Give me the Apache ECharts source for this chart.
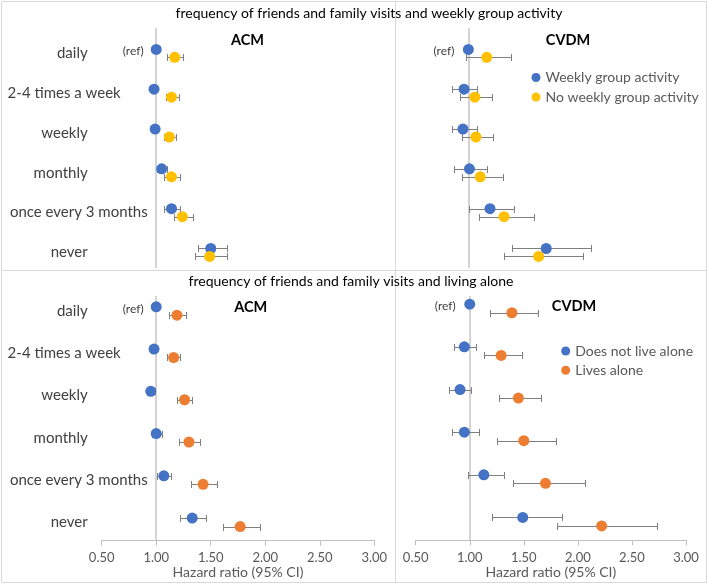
<!DOCTYPE html>
<html><head><meta charset="utf-8">
<script src="https://cdn.jsdelivr.net/npm/echarts@6/dist/echarts.min.js"></script>
<style>html,body{margin:0;padding:0;background:#fff}#c{width:708px;height:584px}</style>
</head><body><div id="c"></div>
<script>
const categories = ['daily', '2-4 times a week', 'weekly', 'monthly', 'once every 3 months', 'never'];
const xTicks = [0.5, 1.0, 1.5, 2.0, 2.5, 3.0];

// Top row: weekly group activity
const acmGroupHR = [1.00, 0.98, 0.99, 1.05, 1.14, 1.50];
const acmGroupLo = [null, 0.95, 0.96, 1.01, 1.07, 1.38];
const acmGroupHi = [null, 1.01, 1.02, 1.10, 1.22, 1.65];
const acmNoGroupHR = [1.17, 1.14, 1.12, 1.14, 1.24, 1.49];
const acmNoGroupLo = [1.10, 1.09, 1.07, 1.07, 1.16, 1.36];
const acmNoGroupHi = [1.25, 1.21, 1.18, 1.22, 1.34, 1.65];

const cvdGroupHR = [1.00, 0.96, 0.95, 1.01, 1.20, 1.72];
const cvdGroupLo = [null, 0.85, 0.85, 0.87, 1.01, 1.40];
const cvdGroupHi = [null, 1.08, 1.08, 1.17, 1.42, 2.13];
const cvdNoGroupHR = [1.17, 1.06, 1.07, 1.11, 1.33, 1.65];
const cvdNoGroupLo = [0.98, 0.92, 0.94, 0.94, 1.10, 1.33];
const cvdNoGroupHi = [1.39, 1.22, 1.23, 1.32, 1.61, 2.06];

// Bottom row: living alone
const acmNotAloneHR = [1.00, 0.98, 0.95, 1.00, 1.07, 1.33];
const acmNotAloneLo = [null, 0.95, 0.92, 0.96, 1.01, 1.22];
const acmNotAloneHi = [null, 1.01, 0.99, 1.05, 1.14, 1.46];
const acmAloneHR = [1.19, 1.16, 1.26, 1.30, 1.43, 1.77];
const acmAloneLo = [1.12, 1.10, 1.19, 1.21, 1.32, 1.61];
const acmAloneHi = [1.27, 1.22, 1.33, 1.40, 1.56, 1.95];

const cvdNotAloneHR = [1.00, 0.95, 0.91, 0.95, 1.13, 1.49];
const cvdNotAloneLo = [null, 0.85, 0.81, 0.84, 0.98, 1.21];
const cvdNotAloneHi = [null, 1.06, 1.01, 1.09, 1.32, 1.85];
const cvdAloneHR = [1.39, 1.29, 1.45, 1.50, 1.70, 2.22];
const cvdAloneLo = [1.19, 1.13, 1.27, 1.25, 1.40, 1.81];
const cvdAloneHi = [1.63, 1.48, 1.66, 1.80, 2.07, 2.73];

const FONT = 'Lato';
const BLUE = '#4472C4', YELLOW = '#FFC000', ORANGE = '#ED7D31';

const panels = [
  { grid: {left: 101.7, top: 28.3, width: 272.6, height: 239.7}, ymin: -0.63, ymax: 5.39, showX: false, cats: true,
    a: {name: 'Weekly group activity', color: BLUE, hr: acmGroupHR, lo: acmGroupLo, hi: acmGroupHi},
    b: {name: 'No weekly group activity', color: YELLOW, hr: acmNoGroupHR, lo: acmNoGroupLo, hi: acmNoGroupHi}, refDist: 7 },
  { grid: {left: 414.3, top: 28.3, width: 270.3, height: 239.7}, ymin: -0.63, ymax: 5.39, showX: false, cats: false,
    a: {name: 'Weekly group activity', color: BLUE, hr: cvdGroupHR, lo: cvdGroupLo, hi: cvdGroupHi},
    b: {name: 'No weekly group activity', color: YELLOW, hr: cvdNoGroupHR, lo: cvdNoGroupLo, hi: cvdNoGroupHi}, refDist: 8.5 },
  { grid: {left: 101.7, top: 296, width: 272.6, height: 244.7}, ymin: -0.355, ymax: 5.435, showX: true, cats: true,
    a: {name: 'Does not live alone', color: BLUE, hr: acmNotAloneHR, lo: acmNotAloneLo, hi: acmNotAloneHi},
    b: {name: 'Lives alone', color: ORANGE, hr: acmAloneHR, lo: acmAloneLo, hi: acmAloneHi}, refDist: 7 },
  { grid: {left: 415.7, top: 296, width: 270.3, height: 244.3}, ymin: -0.293, ymax: 5.436, showX: true, cats: false,
    a: {name: 'Does not live alone', color: BLUE, hr: cvdNotAloneHR, lo: cvdNotAloneLo, hi: cvdNotAloneHi},
    b: {name: 'Lives alone', color: ORANGE, hr: cvdAloneHR, lo: cvdAloneLo, hi: cvdAloneHi}, refDist: 8.5 }
];

const labelPad = {0: 60, 1: 27, 2: 60, 3: 60, 4: 0, 5: 60};
const rich = {};
categories.forEach((c, i) => { rich['p' + i] = {padding: [0, labelPad[i], 0, 0], fontSize: 15, fontFamily: FONT, color: '#404040'}; });

function errSeries(idx, lo, hi, off) {
  const data = [];
  lo.forEach((l, i) => { if (l != null) data.push([l, hi[i], i + off]); });
  return {
    type: 'custom', xAxisIndex: idx, yAxisIndex: idx, silent: true, z: 2,
    encode: {x: [0, 1], y: 2},
    renderItem: (params, api) => {
      const y = api.value(2);
      const a = api.coord([api.value(0), y]);
      const b = api.coord([api.value(1), y]);
      const h = 3.5, st = {stroke: '#7f7f7f', lineWidth: 1};
      const yy = Math.round(a[1]) + 0.5;
      const xa = Math.round(a[0]) + 0.5, xb = Math.round(b[0]) + 0.5;
      return {type: 'group', children: [
        {type: 'line', shape: {x1: xa, y1: yy, x2: xb, y2: yy}, style: st},
        {type: 'line', shape: {x1: xa, y1: yy - h, x2: xa, y2: yy + h}, style: st},
        {type: 'line', shape: {x1: xb, y1: yy - h, x2: xb, y2: yy + h}, style: st}
      ]};
    },
    data
  };
}

const grid = [], xAxis = [], yAxis = [], series = [];
panels.forEach((p, idx) => {
  grid.push(Object.assign({containLabel: false}, p.grid));
  xAxis.push({
    type: 'value', gridIndex: idx, min: 0.5, max: 3, interval: 0.5, show: p.showX, position: 'bottom',
    axisLine: {show: true, onZero: false, lineStyle: {color: '#bfbfbf', width: 1}},
    axisTick: {show: true, length: 5, lineStyle: {color: '#bfbfbf'}},
    splitLine: {show: false},
    axisLabel: {show: true, showMinLabel: true, showMaxLabel: true, formatter: v => v.toFixed(2), color: '#595959', fontSize: 13, fontFamily: FONT, margin: 11},
    name: 'Hazard ratio (95% CI)', nameLocation: 'middle', nameGap: 25,
    nameTextStyle: {color: '#595959', fontSize: 14, fontFamily: FONT}
  });
  yAxis.push({
    type: 'value', gridIndex: idx, inverse: true, min: p.ymin, max: p.ymax,
    axisLine: {show: false}, axisTick: {show: false}, splitLine: {show: false},
    axisLabel: p.cats ? {
      show: true, customValues: [0, 1, 2, 3, 4, 5], align: 'right', margin: -46,
      formatter: v => { const i = Math.round(v); return '{p' + i + '|' + categories[i] + '}'; },
      rich
    } : {show: false}
  });
  [['a', -0.1], ['b', 0.1]].forEach(([k, off]) => {
    const s = p[k];
    series.push(errSeries(idx, s.lo, s.hi, off));
  });
  [['a', -0.1], ['b', 0.1]].forEach(([k, off]) => {
    const s = p[k];
    const data = s.hr.map((v, i) => {
      const item = {value: [v, i + off]};
      if (k === 'a' && s.lo[i] == null) {
        item.label = {show: true, position: 'left', distance: p.refDist, offset: [0, 2], formatter: '(ref)', fontSize: 12, fontFamily: FONT, color: '#404040'};
      }
      return item;
    });
    const ser = {
      type: 'scatter', name: s.name, xAxisIndex: idx, yAxisIndex: idx, symbol: 'circle', symbolSize: 11, z: 5,
      itemStyle: {color: s.color, opacity: 1}, silent: true, data
    };
    if (k === 'a') {
      ser.markLine = {silent: true, symbol: ['none', 'none'], label: {show: false}, z: 1,
        lineStyle: {color: '#c6c6c6', width: 1.5, type: 'solid'}, data: [{xAxis: 1}]};
    }
    series.push(ser);
  });
});

function txt(x, y, text, size, weight, color) {
  return {type: 'text', x, y, silent: true, style: {text, fontSize: size, fontFamily: FONT, fontWeight: weight, fill: color,
    align: 'center', verticalAlign: 'middle', textAlign: 'center', textVerticalAlign: 'middle'}};
}
function box(x1, y1, x2, y2) {
  return {type: 'rect', silent: true, shape: {x: x1 + 0.5, y: y1 + 0.5, width: x2 - x1, height: y2 - y1},
    style: {fill: 'none', stroke: '#d9d9d9', lineWidth: 1}};
}

const option = {
  animation: false,
  backgroundColor: '#ffffff',
  textStyle: {fontFamily: FONT},
  grid, xAxis, yAxis, series,
  legend: [
    {data: ['Weekly group activity', 'No weekly group activity'], orient: 'vertical', left: 531.5, top: 70.5, padding: 0,
      itemWidth: 9, itemHeight: 9, itemGap: 5.6, icon: 'circle', selectedMode: false,
      textStyle: {fontSize: 14, color: '#595959', fontFamily: FONT}},
    {data: ['Does not live alone', 'Lives alone'], orient: 'vertical', left: 561.2, top: 344, padding: 0,
      itemWidth: 9, itemHeight: 9, itemGap: 5.3, icon: 'circle', selectedMode: false,
      textStyle: {fontSize: 14, color: '#595959', fontFamily: FONT}}
  ],
  graphic: [
    box(1, 1, 395, 270), box(395, 1, 706, 270), box(1, 270, 395, 582), box(395, 270, 706, 582),
    txt(369, 13, 'frequency of friends and family visits and weekly group activity', 14, 'normal', '#000'),
    txt(351, 281, 'frequency of friends and family visits and living alone', 14, 'normal', '#000'),
    txt(247.5, 40, 'ACM', 14.5, 'bold', '#000'),
    txt(568, 40, 'CVDM', 14.5, 'bold', '#000'),
    txt(250.7, 307, 'ACM', 14.5, 'bold', '#000'),
    txt(574, 306, 'CVDM', 14.5, 'bold', '#000')
  ]
};
const chart = echarts.init(document.getElementById('c'));
chart.setOption(option);
</script></body></html>
